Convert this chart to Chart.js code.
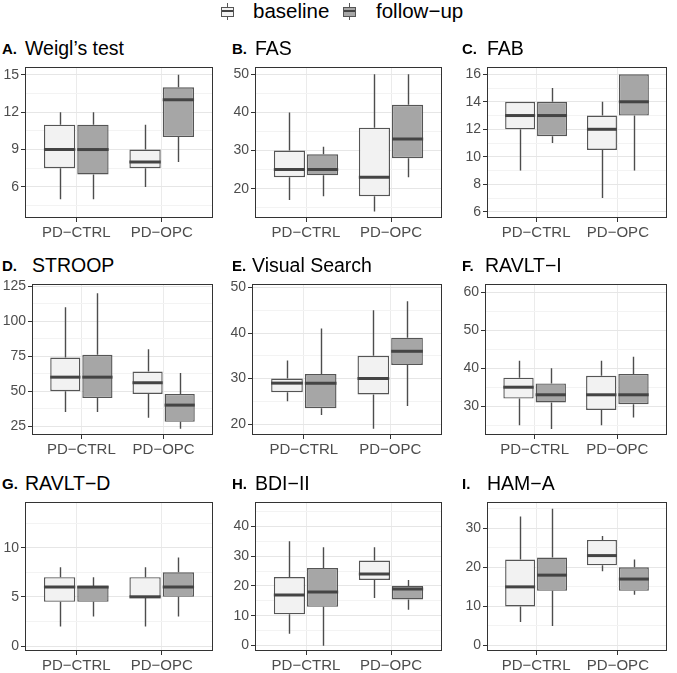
<!DOCTYPE html>
<html>
<head>
<meta charset="utf-8">
<script src="https://cdn.jsdelivr.net/npm/chart.js@4.4.0/dist/chart.umd.min.js"></script>
<style>
body { margin: 0; background: #fff; font-family: "Liberation Sans", Arial, sans-serif; }
#wrap { position: relative; width: 677px; height: 673px; overflow: hidden; background: #fff; }
.panel { position: absolute; }
.letter { position: absolute; font-weight: bold; font-size: 15px; line-height: 15px; color: #000; white-space: nowrap; }
.title { position: absolute; font-size: 19.5px; line-height: 19px; color: #000; white-space: nowrap; }
.leg-text { position: absolute; font-size: 20.5px; line-height: 20px; color: #000; white-space: nowrap; }
.key { position: absolute; width: 13px; height: 17px; }
.key .wh { position: absolute; left: 6px; top: 0; width: 1px; height: 17px; background: #555; }
.key .bx { position: absolute; left: 0; top: 4px; width: 11px; height: 8px; border: 1px solid #555; }
.key .md { position: absolute; left: 1px; top: 7px; width: 11px; height: 2px; background: #444; }
</style>
</head>
<body>
<div id="wrap"></div>
<script>
// groups on the x axis and the two series
const groups = ['PD−CTRL', 'PD−OPC'];
const seriesNames = ['baseline', 'follow−up'];
const seriesFills = ['#f2f2f2', '#a6a6a6'];

const panelLetters = ['A.', 'B.', 'C.', 'D.', 'E.', 'F.', 'G.', 'H.', 'I.'];
const panelTitles = ['Weigl’s test', 'FAS', 'FAB', 'STROOP', 'Visual Search', 'RAVLT−I', 'RAVLT−D', 'BDI−II', 'HAM−A'];

// box summaries per panel: [PD-CTRL, PD-OPC], each [min, q1, median, q3, max]
const baselineStats = [
    [[5, 7.5, 9, 11, 12], [6, 7.5, 8, 9, 11]],
    [[17, 23, 25, 30, 40], [14, 18, 23, 36, 50]],
    [[9, 12, 13, 14, 14], [7, 10.5, 12, 13, 14]],
    [[35, 50, 60, 74, 110], [31, 48, 56, 64, 80]],
    [[25, 27, 29, 30, 34], [19, 26.5, 30, 35, 45]],
    [[25, 32, 35, 37.5, 42], [25, 29, 33, 38, 42]],
    [[2, 4.5, 6, 7, 8], [2, 5, 5, 7, 8]],
    [[4, 10.5, 17, 23, 35], [16, 22, 24, 28.5, 33]],
    [[6, 10, 15, 22, 33], [19, 20.5, 23, 27, 28]]
];
const followupStats = [
    [[5, 7, 9, 11, 12], [8, 10, 13, 14, 15]],
    [[18, 23.5, 25, 29, 31], [23, 28, 33, 42, 50]],
    [[11, 11.5, 13, 14, 15], [9, 13, 14, 16, 16]],
    [[35, 45, 60, 76, 120], [23, 28, 40, 48, 63]],
    [[22, 23.5, 29, 31, 41], [24, 33, 36, 39, 47]],
    [[24, 31, 33, 36, 40], [27, 30.5, 33, 38.5, 43]],
    [[3, 4.5, 6, 6.1, 7], [3, 5, 6, 7.5, 9]],
    [[0, 13, 18, 26, 33], [12, 15.5, 19, 20, 22]],
    [[5, 14, 18, 22.5, 35], [13, 14, 17, 20, 22]]
];

// y axis breaks and limits per panel
const yTicks = [
    [6, 9, 12, 15],
    [20, 30, 40, 50],
    [6, 8, 10, 12, 14, 16],
    [25, 50, 75, 100, 125],
    [20, 30, 40, 50],
    [30, 40, 50, 60],
    [0, 5, 10],
    [0, 10, 20, 30, 40],
    [0, 10, 20, 30]
];
const yLimits = [
    [3.5, 15.6], [12.3, 51.8], [5.55, 16.5],
    [18.6, 126.4], [17.6, 50.7], [22.4, 62.1],
    [-0.5, 14.6], [-1.8, 48], [-1.4, 36.6]
];

// panel plot-area placement (px)
const plotLefts = [25, 255, 487, 32, 252, 485, 25, 255, 487];
const plotRights = [213, 442, 667, 213, 442, 667, 213, 442, 667];
const rowTops = [67, 284, 502];
const rowBottoms = [218, 435, 651];
const letterLefts = [2, 232, 462];

const PAD_L = 44, PAD_T = 10, PAD_R = 6, PAD_B = 26;

const boxPlugin = {
    id: 'boxWhiskers',
    afterDatasetsDraw(chart) {
        const ctx = chart.ctx;
        const yScale = chart.scales.y;
        chart.data.datasets.forEach(function(ds, di) {
            const meta = chart.getDatasetMeta(di);
            meta.data.forEach(function(bar, i) {
                const s = ds.stats[i];
                const half = bar.width / 2;
                const x = Math.round(bar.x) + 0.5;
                ctx.save();
                ctx.strokeStyle = '#4d4d4d';
                ctx.lineWidth = 1.4;
                ctx.beginPath();
                ctx.moveTo(x, yScale.getPixelForValue(s[3]));
                ctx.lineTo(x, yScale.getPixelForValue(s[4]));
                ctx.moveTo(x, yScale.getPixelForValue(s[1]));
                ctx.lineTo(x, yScale.getPixelForValue(s[0]));
                ctx.stroke();
                const ym = yScale.getPixelForValue(s[2]);
                ctx.strokeStyle = '#444';
                ctx.lineWidth = 3;
                ctx.beginPath();
                ctx.moveTo(bar.x - half, ym);
                ctx.lineTo(bar.x + half, ym);
                ctx.stroke();
                ctx.restore();
            });
        });
    }
};

const borderPlugin = {
    id: 'panelBorder',
    afterDraw(chart) {
        const a = chart.chartArea;
        const ctx = chart.ctx;
        ctx.save();
        ctx.strokeStyle = '#333';
        ctx.lineWidth = 1;
        ctx.strokeRect(Math.round(a.left) + 0.5, Math.round(a.top) + 0.5,
            Math.round(a.right - a.left) - 1, Math.round(a.bottom - a.top) - 1);
        ctx.restore();
    }
};

const wrap = document.getElementById('wrap');

// legend
const legKeyLefts = [221, 343];
const legTextLefts = [253, 376];
seriesNames.forEach(function(name, i) {
    const key = document.createElement('div');
    key.className = 'key';
    key.style.left = legKeyLefts[i] + 'px';
    key.style.top = '3px';
    key.innerHTML = '<div class="wh"></div><div class="bx" style="background:' + seriesFills[i] + '"></div><div class="md"></div>';
    wrap.appendChild(key);
    const t = document.createElement('div');
    t.className = 'leg-text';
    t.style.left = legTextLefts[i] + 'px';
    t.style.top = '1px';
    t.textContent = name;
    wrap.appendChild(t);
});

function buildPanel(p) {
    const row = Math.floor(p / 3), col = p % 3;
    const left = plotLefts[p], right = plotRights[p];
    const top = rowTops[row], bottom = rowBottoms[row];

    const letter = document.createElement('div');
    letter.className = 'letter';
    letter.style.left = letterLefts[col] + 'px';
    letter.style.top = (top - 26) + 'px';
    letter.textContent = panelLetters[p];
    wrap.appendChild(letter);

    const title = document.createElement('div');
    title.className = 'title';
    title.style.left = left + 'px';
    title.style.top = (top - 28) + 'px';
    title.textContent = panelTitles[p];
    wrap.appendChild(title);

    const div = document.createElement('div');
    div.className = 'panel';
    const w = right - left + PAD_L + PAD_R;
    const h = bottom - top + PAD_T + PAD_B;
    div.style.left = (left - PAD_L) + 'px';
    div.style.top = (top - PAD_T) + 'px';
    div.style.width = w + 'px';
    div.style.height = h + 'px';
    const canvas = document.createElement('canvas');
    div.appendChild(canvas);
    wrap.appendChild(div);

    // minor breaks half way between the major ones
    const major = yTicks[p];
    const step = major[1] - major[0];
    const lim = yLimits[p];
    const allTicks = [];
    for (let v = major[0] - step; v <= lim[1]; v += step / 2) {
        if (v >= lim[0]) {
            allTicks.push({ value: v, isMajor: major.indexOf(v) !== -1 });
        }
    }

    const datasets = [baselineStats, followupStats].map(function(stats, si) {
        return {
            label: seriesNames[si],
            data: stats[p].map(function(s, gi) { return { x: gi + 1, y: [s[1], s[3]] }; }),
            stats: stats[p],
            backgroundColor: seriesFills[si],
            borderColor: '#555',
            borderWidth: 1.4,
            borderSkipped: false,
            categoryPercentage: 0.78,
            barPercentage: 0.94
        };
    });

    new Chart(canvas.getContext('2d'), {
        type: 'bar',
        data: { datasets: datasets },
        options: {
            responsive: true,
            maintainAspectRatio: false,
            animation: false,
            layout: { padding: { left: 0, top: PAD_T, right: PAD_R, bottom: 0 } },
            plugins: { legend: { display: false }, tooltip: { enabled: false } },
            scales: {
                x: {
                    type: 'linear',
                    min: 0.4,
                    max: 2.6,
                    offset: false,
                    afterBuildTicks: function(scale) {
                        scale.ticks = [{ value: 1 }, { value: 2 }];
                    },
                    afterFit: function(scale) { scale.height = PAD_B; },
                    border: { display: false },
                    grid: { offset: false, color: '#ebebeb', tickColor: '#333', tickLength: 4, lineWidth: 1 },
                    ticks: {
                        autoSkip: false,
                        maxRotation: 0,
                        padding: 2,
                        color: '#4d4d4d',
                        font: { family: 'Liberation Sans', size: 15 },
                        callback: function(v) { return groups[v - 1]; }
                    }
                },
                y: {
                    min: lim[0],
                    max: lim[1],
                    beginAtZero: false,
                    afterBuildTicks: function(scale) {
                        scale.ticks = allTicks.map(function(t) { return { value: t.value, isMajor: t.isMajor }; });
                    },
                    afterFit: function(scale) { scale.width = PAD_L; },
                    border: { display: false },
                    grid: {
                        color: function(c) { return c.tick && c.tick.isMajor ? '#e6e6e6' : '#f3f3f3'; },
                        tickColor: function(c) { return c.tick && c.tick.isMajor ? '#333' : 'rgba(0,0,0,0)'; },
                        tickLength: 4,
                        lineWidth: 1
                    },
                    ticks: {
                        autoSkip: false,
                        padding: 2,
                        color: '#4d4d4d',
                        font: { family: 'Liberation Sans', size: 14 },
                        callback: function(v, i, ticks) { return ticks[i].isMajor ? String(v) : ''; }
                    }
                }
            }
        },
        plugins: [boxPlugin, borderPlugin]
    });
}

for (let p = 0; p < 9; p++) {
    buildPanel(p);
}
</script>
</body>
</html>
